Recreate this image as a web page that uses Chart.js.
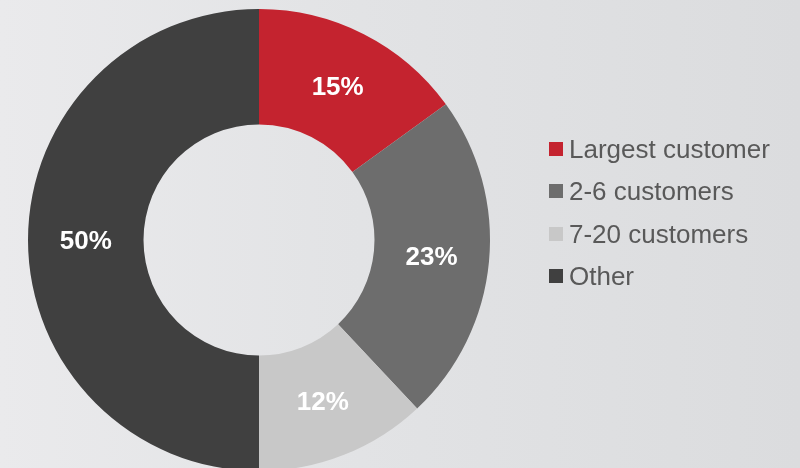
<!DOCTYPE html>
<html>
<head>
<meta charset="utf-8">
<script src="https://cdn.jsdelivr.net/npm/chart.js@4/dist/chart.umd.min.js"></script>
<style>
  html, body { margin: 0; padding: 0; width: 800px; height: 468px; overflow: hidden; }
  body {
    background: linear-gradient(90deg, #eaeaec 0%, #e2e3e5 45%, #dbdcde 100%);
    font-family: "Liberation Sans", Arial, sans-serif;
    position: relative;
  }
  #wrap { position: absolute; left: 0; top: 0; width: 800px; height: 490px; }
  #legend { position: absolute; left: 549px; top: 128px; }
  .item { display: flex; align-items: center; height: 42.3px; }
  .box { width: 14px; height: 14px; margin-right: 6px; }
  .lbl { font-size: 26px; color: #595959; line-height: 1; white-space: nowrap; }
</style>
</head>
<body>
<div id="wrap"><canvas id="c" width="800" height="490"></canvas></div>
<div id="legend"></div>
<script>
const categories = ["Largest customer", "2-6 customers", "7-20 customers", "Other"];
const shares = [15, 23, 12, 50];
const colors = ["#c4232f", "#6d6d6d", "#c8c8c8", "#404040"];

const labelPlugin = {
  id: 'sliceLabels',
  afterDatasetsDraw(chart) {
    const ctx = chart.ctx;
    const meta = chart.getDatasetMeta(0);
    ctx.save();
    ctx.fillStyle = '#ffffff';
    ctx.font = 'bold 26px "Liberation Sans", Arial, sans-serif';
    ctx.textAlign = 'center';
    ctx.textBaseline = 'middle';
    meta.data.forEach((arc, i) => {
      const p = arc.tooltipPosition();
      ctx.fillText(shares[i] + '%', p.x, p.y + 2);
    });
    ctx.restore();
  }
};

new Chart(document.getElementById('c'), {
  type: 'doughnut',
  data: {
    labels: categories,
    datasets: [{
      data: shares,
      backgroundColor: colors,
      borderWidth: 0,
      hoverOffset: 0
    }]
  },
  options: {
    responsive: false,
    animation: false,
    cutout: '50%',
    layout: { padding: { left: 28, right: 310, top: 9, bottom: 19 } },
    plugins: {
      legend: { display: false },
      tooltip: { enabled: false }
    }
  },
  plugins: [labelPlugin]
});

const legend = document.getElementById('legend');
categories.forEach((name, i) => {
  const row = document.createElement('div');
  row.className = 'item';
  const box = document.createElement('div');
  box.className = 'box';
  box.style.background = colors[i];
  const lbl = document.createElement('span');
  lbl.className = 'lbl';
  lbl.textContent = name;
  row.appendChild(box);
  row.appendChild(lbl);
  legend.appendChild(row);
});
</script>
</body>
</html>
